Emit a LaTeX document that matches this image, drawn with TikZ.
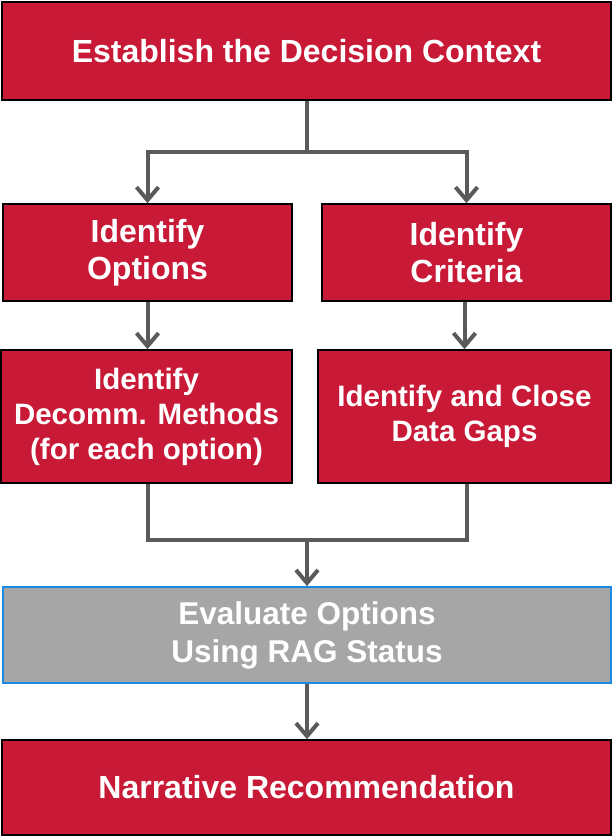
\documentclass[tikz,border=0pt]{standalone}
\usepackage{fontspec}
\setmainfont{Liberation Sans}
\usetikzlibrary{arrows.meta}
\definecolor{boxred}{RGB}{200,25,55}
\definecolor{evalgrey}{RGB}{166,166,166}
\definecolor{evalblue}{RGB}{30,136,229}
\definecolor{conngrey}{RGB}{90,90,90}
\tikzset{
  redbox/.style={draw=black, line width=1.6pt, fill=boxred, text=white, align=center,
    inner sep=0pt, font=\bfseries\fontsize{32}{37}\selectfont},
  smallred/.style={redbox, font=\bfseries\fontsize{29.5}{35}\selectfont},
  greybox/.style={draw=evalblue, line width=1.8pt, fill=evalgrey, text=white, align=center,
    inner sep=0pt, font=\bfseries\fontsize{31.5}{38}\selectfont},
  conn/.style={draw=conngrey, line width=4pt},
  arr/.style={conn, -{Straight Barb[length=13pt,width=22pt]}},
}
\begin{document}
\begin{tikzpicture}[x=1pt,y=-1pt]
\useasboundingbox (0,0) rectangle (613,836);
\node[redbox, minimum width=609pt, minimum height=98pt] (ctx) at (306.5,51) {Establish the Decision Context};
\node[redbox, minimum width=289pt, minimum height=97pt] (opt) at (147.5,252.5) {Identify\\Options};
\node[redbox, minimum width=289pt, minimum height=97pt] (crit) at (466.5,252.5) {Identify\\Criteria};
\node[smallred, minimum width=291pt, minimum height=133pt] (meth) at (146.5,416.5) {Identify\\Decomm. Methods\\(for each option)};
\node[smallred, minimum width=293pt, minimum height=133pt] (gaps) at (464.5,416.5) {Identify and Close\\Data Gaps};
\node[greybox, minimum width=608pt, minimum height=96pt] (eval) at (307,635) {Evaluate Options\\Using RAG Status};
\node[redbox, minimum width=609pt, minimum height=95pt] (rec) at (306.5,787.5) {Narrative Recommendation};
\coordinate (j1) at (307,152);
\coordinate (j2) at (307,540);
\coordinate (ml) at (148,540);
\coordinate (gr) at (467,540);
\draw[conn] (ctx.south -| j1) -- (j1);
\draw[arr] (j1) -| (opt.north);
\draw[arr] (j1) -| (crit.north);
\draw[arr] (opt.south) -- (opt.south |- meth.north);
\draw[arr] (crit.south -| gaps.north) -- (gaps.north);
\draw[conn] (meth.south -| ml) -- (ml) -- (gr) -- (gaps.south -| gr);
\draw[arr] (j2) -- (eval.north -| j2);
\draw[arr] (eval.south -| j2) -- (rec.north -| j2);
\end{tikzpicture}
\end{document}
